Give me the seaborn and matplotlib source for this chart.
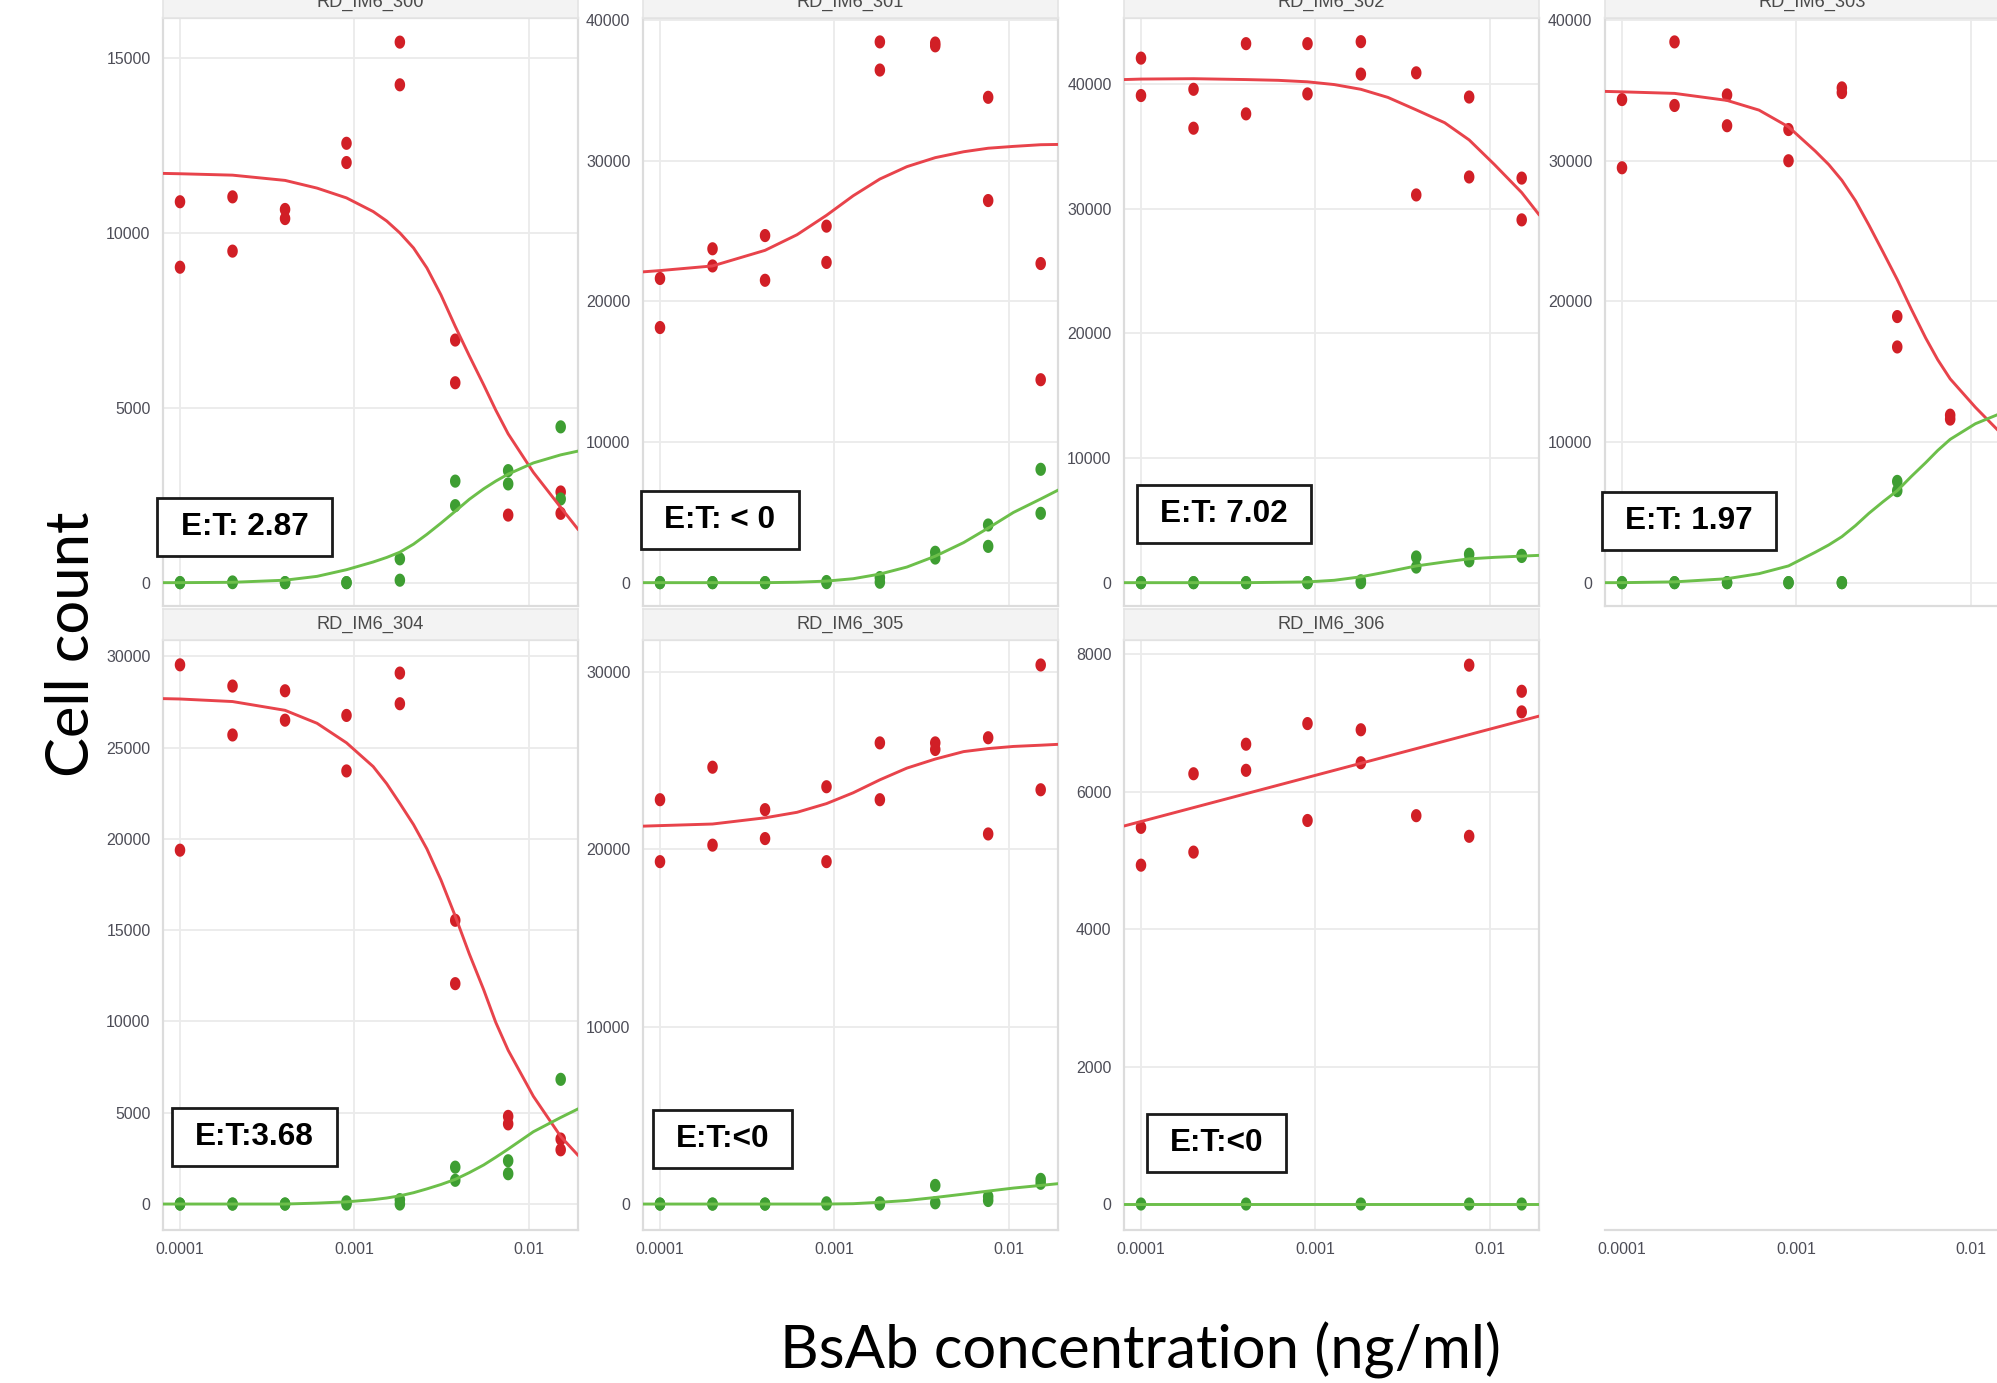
import numpy as np
import pandas as pd
import matplotlib
matplotlib.use("Agg")
import matplotlib.pyplot as plt
import seaborn as sns
from matplotlib.path import Path
from matplotlib.patches import Rectangle
from matplotlib import font_manager
from matplotlib.ticker import NullLocator, FixedLocator, FixedFormatter

# ---------------------------------------------------------------- data
PANELS = ["RD_IM6_300", "RD_IM6_301", "RD_IM6_302", "RD_IM6_303",
          "RD_IM6_304", "RD_IM6_305", "RD_IM6_306"]
ET_LABELS = ["E:T: 2.87", "E:T: < 0", "E:T: 7.02", "E:T: 1.97",
             "E:T:3.68", "E:T:<0", "E:T:<0"]
CONC = [1.0e-4, 2.0e-4, 4.0e-4, 9.0e-4, 1.82e-3, 3.78e-3, 7.6e-3, 1.52e-2]
X_TICKS = [1e-4, 1e-3, 1e-2]
X_TICK_LABELS = ["0.0001", "0.001", "0.01"]

# observed cell counts (replicates per concentration)
red_300 = [[10880, 9010], [11020, 9470], [10660, 10400], [12550, 12000],
           [15440, 14220], [6930, 5710], [1930], [2590, 1980]]
green_300 = [[0, 0], [20, 0], [0, 0], [0, 0], [680, 70], [2900, 2200],
             [3200, 2820], [4450, 2390]]
red_301 = [[21630, 18140], [23740, 22520], [24680, 21500], [25350, 22770],
           [38450, 36450], [38370, 38170], [34510, 27170], [22690, 14430]]
green_301 = [[0, 0], [0, 0], [0, 0], [80, 0], [360, 30], [2160, 1750],
             [4100, 2580], [8060, 4930]]
red_302 = [[42060, 39060], [39560, 36440], [43220, 37590], [43220, 39190],
           [43380, 40780], [40880, 31090], [38940, 32530], [32440, 29090]]
green_302 = [[0, 0], [0, 0], [0, 0], [0, 0], [150, 0], [2060, 1250],
             [2280, 1750], [2190, 2100]]
red_303 = [[34350, 29500], [38450, 33930], [34680, 32490], [32220, 30000],
           [35180, 34850], [18920, 16760], [11910, 11630], []]
green_303 = [[0, 0], [0, 0], [0, 0], [0, 0], [0, 0], [7200, 6540], [], []]
red_304 = [[29530, 19380], [28370, 25690], [28110, 26500], [26760, 23720],
           [29080, 27400], [15540, 12070], [4800, 4390], [3560, 2970]]
green_304 = [[0, 0], [0, 0], [0, 0], [120, 0], [240, 0], [2020, 1300],
             [2370, 1660], [6830]]
red_305 = [[22780, 19290], [24610, 20220], [22220, 20590], [23510, 19290],
           [25980, 22780], [25980, 25610], [26270, 20850], [30370, 23340]]
green_305 = [[0, 0], [0, 0], [0, 0], [70, 0], [70, 0], [1050, 70],
             [420, 200], [1390, 1170]]
red_306 = [[5480, 4930], [6260, 5120], [6690, 6310], [6990, 5580],
           [6900, 6420], [5650], [7840, 5350], [7460, 7160]]
green_306 = [[0], [], [0], [], [0], [], [0], [0]]

# fitted curves
CURVE_X = [8.0e-5, 1.0e-4, 2.0e-4, 4.0e-4, 6.1e-4, 9.0e-4, 1.28e-3, 1.82e-3,
           2.6e-3, 3.78e-3, 5.5e-3, 7.6e-3, 1.06e-2, 1.52e-2, 1.92e-2]
CURVE_X_FINE = [8.0e-5, 1.0e-4, 2.0e-4, 4.0e-4, 6.1e-4, 9.0e-4, 1.28e-3,
                1.53e-3, 1.82e-3, 2.18e-3, 2.6e-3, 3.13e-3, 3.78e-3, 4.55e-3,
                5.5e-3, 6.45e-3, 7.6e-3, 1.06e-2, 1.52e-2, 1.92e-2]
CURVE_X_303 = [8.0e-5, 1.0e-4, 2.0e-4, 4.0e-4, 6.1e-4, 9.0e-4, 1.28e-3,
               1.53e-3, 1.82e-3, 2.18e-3, 2.6e-3, 3.13e-3, 3.78e-3, 4.55e-3,
               5.5e-3, 6.45e-3, 7.6e-3, 1.06e-2, 1.45e-2]
LINE_X_306 = [8.0e-5, 1.92e-2]

red_fit_300 = [11690, 11680, 11640, 11490, 11270, 10990, 10600, 10330, 9990,
               9560, 8990, 8220, 7320, 6480, 5650, 4930, 4250, 3150, 2150,
               1510]
green_fit_300 = [0, 0, 10, 70, 180, 370, 590, 720, 870, 1100, 1380, 1700,
                 2040, 2380, 2680, 2900, 3100, 3420, 3650, 3760]
red_fit_301 = [22100, 22190, 22520, 23630, 24740, 26120, 27510, 28700, 29580,
               30220, 30640, 30890, 31020, 31140, 31160]
green_fit_301 = [0, 0, 0, 0, 30, 110, 280, 610, 1110, 1880, 2850, 3880, 4990,
                 5950, 6590]
red_fit_302 = [40340, 40380, 40410, 40340, 40280, 40160, 39940, 39560, 38910,
               37910, 36880, 35500, 33530, 31280, 29470]
green_fit_302 = [0, 0, 0, 0, 30, 60, 190, 470, 880, 1340, 1660, 1910, 2030,
                 2130, 2190]
red_fit_303 = [34930, 34900, 34790, 34290, 33600, 32410, 30690, 29730, 28610,
               27150, 25430, 23520, 21550, 19450, 17400, 15850, 14490, 12470,
               10750]
green_fit_303 = [0, 0, 55, 280, 640, 1190, 2160, 2680, 3270, 4060, 4930,
                 5750, 6540, 7550, 8530, 9400, 10190, 11300, 11990]
red_fit_304 = [27680, 27660, 27520, 27040, 26330, 25260, 23960, 23020, 21940,
               20780, 19450, 17750, 15770, 13700, 11740, 9950, 8420, 5900,
               3700, 2650]
green_fit_304 = [0, 0, 0, 0, 50, 120, 240, 330, 450, 620, 830, 1070, 1350,
                 1720, 2140, 2560, 3010, 3960, 4740, 5220]
red_fit_305 = [21290, 21320, 21410, 21760, 22070, 22560, 23170, 23900, 24560,
               25070, 25490, 25660, 25780, 25850, 25900]
green_fit_305 = [0, 0, 0, 0, 0, 0, 20, 100, 200, 370, 560, 730, 900, 1050,
                 1150]
red_fit_306 = [5500, 7100]
green_fit_306 = [0, 0]

Y_LIMS = [(-667, 16129), (-1660, 40150), (-1871, 45277), (-1660, 40150),
          (-1422, 30891), (-1462, 31777), (-378, 8206)]
Y_TICKS = [[0, 5000, 10000, 15000],
           [0, 10000, 20000, 30000, 40000],
           [0, 10000, 20000, 30000, 40000],
           [0, 10000, 20000, 30000, 40000],
           [0, 5000, 10000, 15000, 20000, 25000, 30000],
           [0, 10000, 20000, 30000],
           [0, 2000, 4000, 6000, 8000]]

POINTS = [(red_300, green_300), (red_301, green_301), (red_302, green_302),
          (red_303, green_303), (red_304, green_304), (red_305, green_305),
          (red_306, green_306)]
FITS = [(CURVE_X_FINE, red_fit_300, green_fit_300),
        (CURVE_X, red_fit_301, green_fit_301),
        (CURVE_X, red_fit_302, green_fit_302),
        (CURVE_X_303, red_fit_303, green_fit_303),
        (CURVE_X_FINE, red_fit_304, green_fit_304),
        (CURVE_X, red_fit_305, green_fit_305),
        (LINE_X_306, red_fit_306, green_fit_306)]

# ---------------------------------------------------------------- style
sns.set_theme(style="white")
names = {f.name for f in font_manager.fontManager.ttflist}
NARROW = "Liberation Sans Narrow" if "Liberation Sans Narrow" in names else "Liberation Sans"
NSCALE = 1.0 if NARROW == "Liberation Sans Narrow" else 0.82
BIG = "Lato" if "Lato" in names else "DejaVu Sans"
plt.rcParams["font.family"] = [NARROW, "DejaVu Sans"]

RED_PT, RED_LN = "#D11F26", "#E8434B"
GREEN_PT, GREEN_LN = "#3E9E32", "#6CBF4A"
GRID, BORDER, TICKC, LABC = "#EBEBEB", "#DCDCDC", "#C8C8C8", "#4D4D57"
PAL_PT = {"target": RED_PT, "effector": GREEN_PT}
PAL_LN = {"target": RED_LN, "effector": GREEN_LN}

theta = np.linspace(0, 2 * np.pi, 41)
ELLIPSE = Path(np.c_[0.8 * np.cos(theta), np.sin(theta)], closed=True)

W, H = 1997, 1383
fig = plt.figure(figsize=(W / 100, H / 100), dpi=100)
fig.patch.set_facecolor("white")


def px_axes(x0, y0, x1, y1):
    return fig.add_axes([x0 / W, 1 - y1 / H, (x1 - x0) / W, (y1 - y0) / H])


COL_X = [163, 643, 1124, 1605]
PW = 415
ROWS = [(18, 606), (640, 1230)]
STRIPS = [(-13, 18), (609, 640)]
XLIM = (7.99e-5, 0.0191)
TICK_FS = 14 * NSCALE
STRIP_FS = 16 * NSCALE


def set_log_x(ax, show_labels):
    ax.set_xscale("log")
    ax.set_xlim(*XLIM)
    ax.xaxis.set_major_locator(FixedLocator(X_TICKS))
    ax.xaxis.set_minor_locator(NullLocator())
    if show_labels:
        ax.xaxis.set_major_formatter(FixedFormatter(X_TICK_LABELS))
        ax.tick_params(axis="x", length=5, width=1.2, color=TICKC,
                       labelsize=TICK_FS, labelcolor=LABC, pad=4,
                       labelbottom=True)
    else:
        ax.tick_params(axis="x", length=0, labelbottom=False)


for i, name in enumerate(PANELS):
    r, c = divmod(i, 4)
    x0 = COL_X[c]
    y0, y1 = ROWS[r]
    ax = px_axes(x0, y0, x0 + PW, y1)
    ax.set_facecolor("white")

    red, green = POINTS[i]
    rows = []
    for pop, vals in (("target", red), ("effector", green)):
        for cx, reps in zip(CONC, vals):
            for v in reps:
                rows.append((cx, v, pop))
    df_pts = pd.DataFrame(rows, columns=["conc", "count", "pop"])

    fx, fr, fg = FITS[i]
    df_fit = pd.DataFrame({"conc": list(fx) * 2, "count": list(fr) + list(fg),
                           "pop": ["target"] * len(fx) + ["effector"] * len(fx)})

    sns.scatterplot(data=df_pts, x="conc", y="count", hue="pop",
                    palette=PAL_PT, marker=ELLIPSE, s=90, linewidth=0,
                    edgecolor="none", legend=False, ax=ax, zorder=3)
    sns.lineplot(data=df_fit, x="conc", y="count", hue="pop", palette=PAL_LN,
                 estimator=None, sort=True, linewidth=2.1, legend=False,
                 ax=ax, zorder=4)

    set_log_x(ax, show_labels=(r == 1))
    ax.set_ylim(*Y_LIMS[i])
    ax.yaxis.set_major_locator(FixedLocator(Y_TICKS[i]))
    ax.yaxis.set_major_formatter(FixedFormatter([str(t) for t in Y_TICKS[i]]))
    ax.yaxis.set_minor_locator(NullLocator())
    ax.tick_params(axis="y", length=5, width=1.2, color=TICKC,
                   labelsize=TICK_FS, labelcolor=LABC, pad=4)
    for s in ax.spines.values():
        s.set_color(BORDER)
        s.set_linewidth(1.6)
    ax.grid(True, which="major", color=GRID, linewidth=1.3)
    ax.set_axisbelow(True)
    ax.set_xlabel("")
    ax.set_ylabel("")

    # facet strip
    s0, s1 = STRIPS[r]
    sax = px_axes(x0, s0, x0 + PW, s1)
    sax.set_facecolor("#F3F3F3")
    for s in sax.spines.values():
        s.set_color("#E4E4E4")
        s.set_linewidth(1.2)
    sax.set_xticks([])
    sax.set_yticks([])
    sax.text(0.5, 0.5, name, ha="center", va="center", fontsize=STRIP_FS,
             color="#4A4A4A", transform=sax.transAxes)

# empty slot under RD_IM6_303 carries its x axis
eax = px_axes(COL_X[3], ROWS[1][0], COL_X[3] + PW, ROWS[1][1])
eax.set_facecolor("none")
set_log_x(eax, show_labels=True)
for k, s in eax.spines.items():
    s.set_visible(k == "bottom")
eax.spines["bottom"].set_color(BORDER)
eax.spines["bottom"].set_linewidth(1.6)
eax.set_yticks([])

# E:T annotation boxes (pixel boxes: x0, y0, x1, y1)
ET_BOXES = [(157, 498, 332, 556), (641, 491, 799, 549), (1137, 485, 1311, 543),
            (1602, 492, 1776, 550), (172, 1108, 337, 1166), (653, 1110, 792, 1168),
            (1147, 1114, 1286, 1172)]
for (bx0, by0, bx1, by1), lab in zip(ET_BOXES, ET_LABELS):
    fig.add_artist(Rectangle((bx0 / W, 1 - by1 / H), (bx1 - bx0) / W,
                             (by1 - by0) / H, transform=fig.transFigure,
                             facecolor="white", edgecolor="#1A1A1A",
                             linewidth=2.0, zorder=10))
    fig.text((bx0 + bx1) / 2 / W, 1 - (by0 + by1) / 2 / H, lab,
             ha="center", va="center", fontsize=22.7, fontweight="bold",
             family=["Liberation Sans", "DejaVu Sans"], color="black", zorder=11)

fig.text(72 / W, 1 - 644 / H, "Cell count", rotation=90, ha="center",
         va="center", fontsize=43, family=[BIG, "DejaVu Sans"], color="black")
fig.text(1141 / W, 1 - 1350 / H, "BsAb concentration (ng/ml)", ha="center",
         va="center", fontsize=43, family=[BIG, "DejaVu Sans"], color="black")

fig.savefig("out.png", dpi=100, facecolor="white")
